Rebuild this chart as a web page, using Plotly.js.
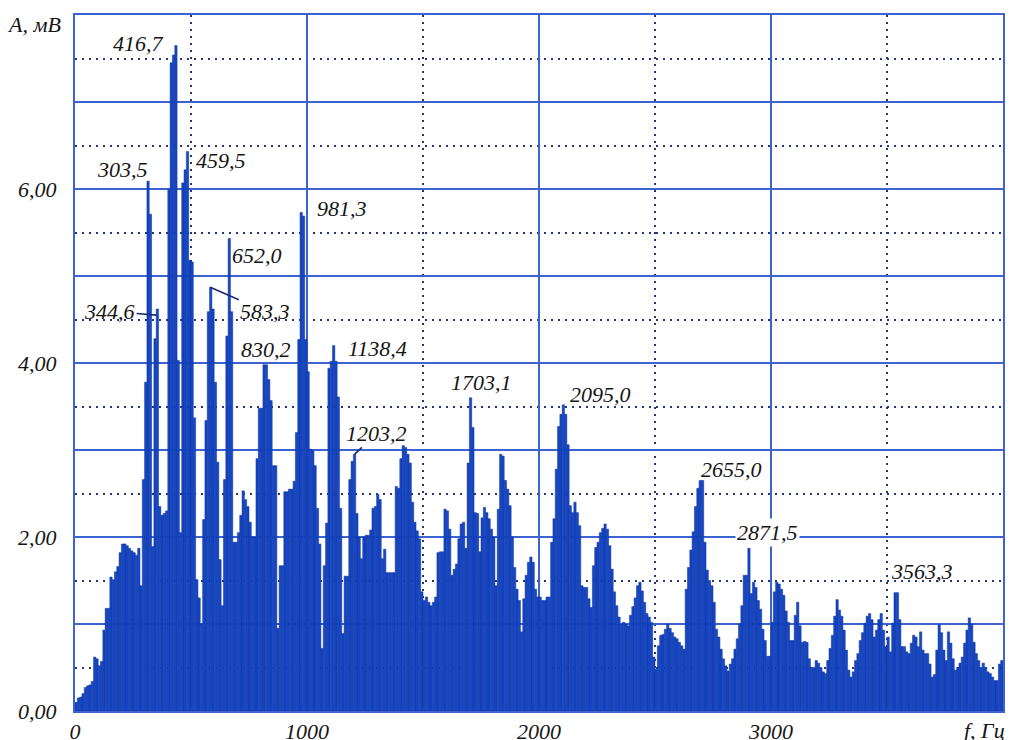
<!DOCTYPE html>
<html>
<head>
<meta charset="utf-8">
<script src="https://cdn.plot.ly/plotly-3.0.1.min.js"></script>
<style>html,body{margin:0;padding:0;background:#fff;}#chart{width:1011px;height:740px;}</style>
</head>
<body>
<div id="chart"></div>
<script>
// Spectrum amplitude A (mV) in 10 Hz bins starting at 0 Hz (one row = 100 Hz)
const binStartHz = 0;
const binWidthHz = 10;
const amplitude = [
0.10,0.15,0.16,0.20,0.27,0.29,0.30,0.34,0.62,0.60,
0.52,0.57,0.93,1.18,1.18,1.54,1.51,1.60,1.66,1.82,
1.92,1.92,1.90,1.87,1.84,1.82,1.79,1.87,1.44,2.66,
3.78,6.09,5.71,1.89,4.28,4.62,2.35,2.25,2.27,2.30,
5.99,7.45,7.54,7.65,4.03,2.05,6.07,6.22,6.43,5.18,
5.16,3.37,1.51,1.30,1.00,2.20,3.34,4.59,4.87,4.62,
3.78,2.86,1.74,1.21,2.66,4.31,5.43,4.59,1.94,1.94,
2.05,2.25,2.53,2.43,2.35,2.17,2.00,2.00,2.90,3.48,
3.48,3.98,3.98,3.81,3.57,2.82,2.82,0.95,1.67,1.67,
2.52,2.52,2.55,2.55,2.64,3.20,4.27,5.73,5.69,4.27,
3.90,3.01,2.99,2.82,2.33,1.92,0.72,1.67,2.16,3.94,
4.02,4.20,4.02,3.61,2.33,0.89,1.55,1.55,2.66,2.87,
2.95,2.27,2.00,1.75,2.00,2.02,2.02,2.08,2.33,2.35,
2.49,2.43,1.75,1.86,1.59,1.59,1.59,1.59,2.58,2.56,
2.90,3.05,3.03,2.95,2.85,2.40,2.17,2.07,1.98,1.37,
1.27,1.31,1.25,1.21,1.25,1.31,1.82,1.83,1.83,2.32,
2.30,2.09,1.56,1.63,1.69,1.98,2.15,2.17,1.87,2.85,
3.60,3.26,2.28,2.27,1.83,2.22,2.34,2.28,2.21,2.09,
2.00,1.44,2.32,2.95,2.93,2.65,2.55,2.36,2.00,1.65,
1.40,1.27,0.91,1.29,1.56,1.71,1.77,1.71,1.40,1.31,
1.31,1.27,1.27,1.31,1.31,1.94,2.21,2.78,3.27,3.41,
3.52,3.41,3.06,2.36,2.28,2.40,2.28,2.13,1.44,1.42,
1.42,1.29,1.19,1.67,1.88,1.94,2.05,2.10,2.15,2.09,
1.90,1.63,1.37,1.21,1.08,1.00,1.02,1.00,0.98,1.10,
1.20,1.30,1.44,1.48,1.38,1.25,1.12,1.08,1.02,0.62,
0.48,0.75,0.87,0.88,0.94,1.00,0.95,0.90,0.85,0.83,
0.79,0.75,0.71,1.40,1.65,1.85,2.06,2.35,2.56,2.65,
2.65,1.94,1.62,1.50,1.44,1.25,0.94,0.85,0.71,0.60,
0.52,0.46,0.54,0.60,0.71,0.83,1.00,1.21,1.56,1.56,
1.87,1.35,1.48,1.42,1.27,1.17,0.94,0.81,0.63,0.63,
1.02,1.37,1.48,1.46,1.40,1.33,1.15,1.02,0.81,0.81,
1.10,1.25,0.98,0.79,0.80,0.79,0.60,0.50,0.50,0.58,
0.55,0.50,0.45,0.43,0.58,0.72,0.87,1.09,1.28,1.16,
1.09,0.93,0.70,0.47,0.39,0.45,0.58,0.66,0.81,0.90,
1.01,1.09,1.12,1.05,0.85,0.93,1.05,1.12,0.93,0.74,
0.85,0.68,1.01,1.36,1.36,1.05,0.74,0.74,0.68,0.66,
0.78,0.87,0.85,0.74,0.91,0.70,0.66,0.66,0.54,0.39,
0.42,0.70,0.99,0.90,0.70,0.58,0.91,0.78,0.60,0.47,
0.50,0.55,0.62,0.78,0.93,1.07,1.00,0.79,0.66,0.58,
0.50,0.55,0.50,0.45,0.43,0.39,0.35,0.35,0.54,0.58
];

// Axis ticks
const xTickVals = [0, 1000, 2000, 3000];
const xTickText = ['0', '1000', '2000', '3000'];
const xMinorVals = [500, 1500, 2500, 3500];
const yTickVals = [0, 1, 2, 3, 4, 5, 6, 7, 8];
const yTickText = ['0,00', '', '2,00', '', '4,00', '', '6,00', '', ''];
const yMinorVals = [0.5, 1.5, 2.5, 3.5, 4.5, 5.5, 6.5, 7.5];

// Peak labels (frequency text)
const peakLabels = ['416,7','303,5','459,5','981,3','652,0','830,2','1138,4','1703,1','2095,0','2655,0','2871,5','3563,3'];
const labelPosF = [272, 203, 629, 1150, 784, 823, 1306, 1754, 2267, 2828, 2983, 3651];
const labelPosA = [7.67, 6.22, 6.33, 5.78, 5.24, 4.15, 4.17, 3.78, 3.64, 2.78, 2.05, 1.60];
// Labels with leader lines: text, peak frequency, peak amplitude, text offset (px)
const leaderLabels = ['344,6', '583,3', '1203,2'];
const leaderPeakF = [352, 583, 1205];
const leaderPeakA = [4.55, 4.87, 2.95];
const leaderDX = [-47, 55, 22];
const leaderDY = [-4, 24, -21];

const gridBlue = '#3d63d2';
const dotNavy = '#24357a';
const labelFont = {family: 'Liberation Serif, Times New Roman, serif', size: 22, style: 'italic', color: '#151515'};

const annotations = [];
peakLabels.forEach((t, i) => {
  annotations.push({
    x: labelPosF[i], y: labelPosA[i], xref: 'x', yref: 'y', text: t, showarrow: false,
    font: labelFont, xanchor: 'center', yanchor: 'middle',
    bgcolor: t === '2871,5' ? '#ffffff' : 'rgba(0,0,0,0)', borderpad: 1
  });
});
leaderLabels.forEach((t, i) => {
  annotations.push({
    x: leaderPeakF[i], y: leaderPeakA[i], xref: 'x', yref: 'y', text: t,
    showarrow: true, arrowhead: 0, arrowwidth: 1.6, arrowcolor: '#1c2c74',
    ax: leaderDX[i], ay: leaderDY[i], standoff: 0, font: labelFont
  });
});
annotations.push({
  xref: 'paper', yref: 'paper', x: 0, y: 1, xanchor: 'right', yanchor: 'middle',
  xshift: -12, yshift: -9, text: 'A, мВ', showarrow: false, font: labelFont
});
annotations.push({
  xref: 'paper', yref: 'paper', x: 1, y: 0, xanchor: 'right', yanchor: 'top',
  xshift: 4, yshift: -5, text: 'f, Гц', showarrow: false, font: labelFont
});

const trace = {
  type: 'bar',
  x0: binStartHz, dx: binWidthHz,
  y: amplitude,
  width: binWidthHz, offset: 0,
  marker: {color: '#1748c8', line: {color: '#0d3199', width: 0.5}},
  hoverinfo: 'skip'
};

const layout = {
  width: 1011, height: 740,
  margin: {l: 75, r: 8, t: 15, b: 29, pad: 0},
  paper_bgcolor: '#ffffff', plot_bgcolor: '#ffffff',
  showlegend: false, bargap: 0,
  xaxis: {
    range: [0, 4000], tickmode: 'array', tickvals: xTickVals, ticktext: xTickText,
    showgrid: true, gridcolor: gridBlue, gridwidth: 1.5,
    showline: true, mirror: true, linecolor: gridBlue, linewidth: 2,
    zeroline: false, ticks: '', ticklabelstandoff: 0,
    tickfont: labelFont,
    minor: {tickvals: xMinorVals, showgrid: true, gridcolor: dotNavy, gridwidth: 2, griddash: '2px,5px'}
  },
  yaxis: {
    range: [0, 8], tickmode: 'array', tickvals: yTickVals, ticktext: yTickText,
    showgrid: true, gridcolor: gridBlue, gridwidth: 1.5,
    showline: true, mirror: true, linecolor: gridBlue, linewidth: 2,
    zeroline: false, ticks: '', ticklabelstandoff: 12,
    tickfont: labelFont,
    minor: {tickvals: yMinorVals, showgrid: true, gridcolor: dotNavy, gridwidth: 2, griddash: '2px,5px'}
  },
  annotations: annotations
};

Plotly.newPlot('chart', [trace], layout, {displayModeBar: false, staticPlot: true});
</script>
</body>
</html>
